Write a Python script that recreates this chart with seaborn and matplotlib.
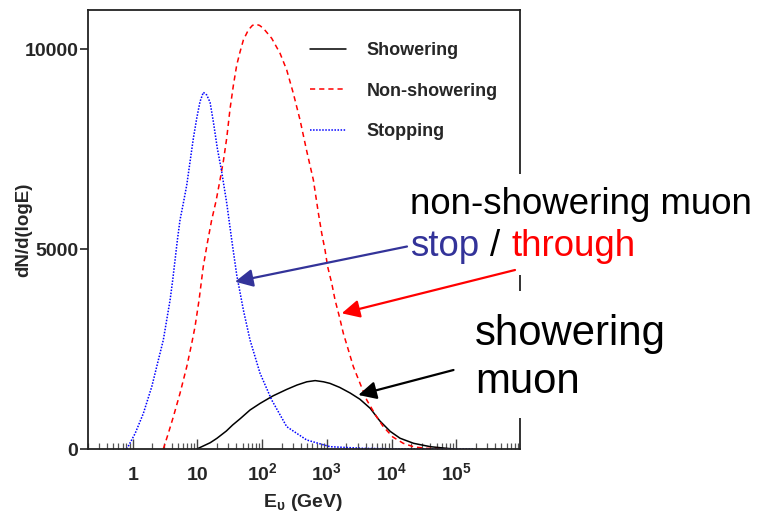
import matplotlib
matplotlib.use("Agg")
import matplotlib.pyplot as plt
from matplotlib.patches import Rectangle
from matplotlib.ticker import FixedLocator, FixedFormatter, LogLocator, NullFormatter
import numpy as np
import pandas as pd
import seaborn as sns

# ---- data: neutrino energy spectra of upward muon classes ----
series_names = ["Showering", "Non-showering", "Stopping"]

showering_E = [9.8, 12.3, 15.8, 20, 28, 35, 46, 65, 93, 148, 240, 347, 490, 660,
               890, 1120, 1580, 2290, 3240, 4680, 6610, 9550, 13500, 21900,
               39800, 63100, 91200]
showering_N = [0, 75, 158, 267, 450, 600, 760, 975, 1140, 1330, 1490, 1600, 1680,
               1710, 1680, 1640, 1540, 1400, 1245, 1017, 700, 440, 270, 142, 58,
               25, 0]

nonshowering_E = [2.97, 3.55, 4.25, 5.38, 6.84, 8.17, 9.18, 10.6, 12.3, 14.2, 16.6,
                  19.4, 22.3, 25.2, 28.4, 31.9, 36.0, 40.5, 45.6, 51.3, 61.2, 70.8,
                  79.4, 91.2, 104.5, 140.6, 189.2, 239.9, 303.4, 385.5, 488.7,
                  619.4, 739.6, 833.7, 937.6, 1030, 1191, 1340, 1563, 1799, 2153,
                  2570, 3258, 4140, 5902, 7464, 10470, 15210, 22390, 34990, 72440]
nonshowering_N = [0, 392, 808, 1392, 2058, 2642, 3058, 3725, 4558, 5142, 5725, 6200,
                  6720, 7200, 7780, 8500, 9100, 9600, 9930, 10225, 10475, 10590,
                  10620, 10590, 10517, 10267, 9892, 9475, 8892, 8225, 7450, 6725,
                  5900, 5392, 4975, 4558, 4142, 3725, 3308, 2892, 2475, 2058, 1642,
                  1225, 800, 558, 300, 142, 50, 17, 0]

stopping_E = [0.81, 1.09, 1.46, 1.97, 2.49, 2.97, 3.35, 3.78, 4.15, 4.51, 4.90, 5.38,
              6.05, 6.84, 7.69, 8.65, 9.75, 10.96, 12.33, 13.93, 15.67, 17.62, 20.3,
              23.7, 28.4, 33.9, 40.5, 51.3, 65.0, 92.9, 140.6, 240, 489, 1122, 3630,
              10000, 39800, 182000]
stopping_N = [0, 390, 890, 1560, 2225, 2725, 3225, 3725, 4225, 4725, 5225, 5725,
              6142, 6600, 7183, 7767, 8267, 8683, 8917, 8850, 8667, 8183, 7517,
              6933, 6142, 5225, 4350, 3475, 2725, 1892, 1225, 558, 225, 58, 17, 5,
              2, 0]

xtick_values = [1, 10, 100, 1000, 10000, 100000]
xtick_labels = ["1", "10", r"$\mathbf{10^{2}}$", r"$\mathbf{10^{3}}$",
                r"$\mathbf{10^{4}}$", r"$\mathbf{10^{5}}$"]
ytick_values = [0, 5000, 10000]

# ---- style ----
sns.set_theme(style="white")
plt.rcParams["font.family"] = ["Liberation Sans", "DejaVu Sans"]
plt.rcParams["mathtext.fontset"] = "custom"
plt.rcParams["mathtext.rm"] = "Liberation Sans"
plt.rcParams["mathtext.bf"] = "Liberation Sans:bold"
plt.rcParams["mathtext.it"] = "Liberation Sans:italic"

W, H = 761, 515
fig = plt.figure(figsize=(W / 100, H / 100), dpi=100)
fig.patch.set_facecolor("white")
ax = fig.add_axes([87.5 / W, 1 - 449 / H, 432 / W, 439 / H])
ax.set_xscale("log")

frames = []
for name, E, N in [("Showering", showering_E, showering_N),
                   ("Non-showering", nonshowering_E, nonshowering_N),
                   ("Stopping", stopping_E, stopping_N)]:
    frames.append(pd.DataFrame({"E": E, "dN": N, "type": name}))
df = pd.concat(frames, ignore_index=True)

palette = {"Showering": "black", "Non-showering": "#ff0000", "Stopping": "#0000ff"}
dashes = {"Showering": "", "Non-showering": (3.4, 2.6), "Stopping": (1.0, 1.0)}
sns.lineplot(data=df, x="E", y="dN", hue="type", style="type",
             hue_order=series_names, style_order=series_names,
             palette=palette, dashes=dashes, estimator=None, sort=False,
             legend=False, lw=1.1, ax=ax)

ax.set_xlim(0.2, 9.5e5)
ax.set_ylim(0, 10975)

# axes frame
for s in ax.spines.values():
    s.set_visible(True)
    s.set_color("#222222")
    s.set_linewidth(1.3)

# ticks
ax.xaxis.set_major_locator(FixedLocator(xtick_values))
ax.xaxis.set_major_formatter(FixedFormatter(xtick_labels))
ax.xaxis.set_minor_locator(LogLocator(base=10, subs=np.arange(2, 10), numticks=30))
ax.xaxis.set_minor_formatter(NullFormatter())
ax.set_yticks(ytick_values)
ax.set_yticklabels([str(v) for v in ytick_values])
ax.tick_params(axis="x", which="major", direction="in", length=7.5, width=1.0,
               color="#444444", pad=22.3, labelsize=14, bottom=True, top=False)
ax.tick_params(axis="x", which="minor", direction="in", length=4.3, width=0.9,
               color="#555555", bottom=True, top=False)
ax.tick_params(axis="y", which="major", direction="out", length=6, width=1.2,
               color="#222222", pad=0.5, labelsize=14, left=True, right=False)
for lbl in ax.get_xticklabels() + ax.get_yticklabels():
    lbl.set_fontweight("bold")
for t in ax.xaxis.get_major_ticks():
    t.label1.set_va("baseline")

ax.set_xlabel(r"$\mathbf{E_{υ}\ (GeV)}$", fontsize=14)
ax.xaxis.set_label_coords(0.5, -0.098)
ax.set_ylabel("dN/d(logE)", fontsize=13.5, fontweight="bold")
ax.yaxis.set_label_coords(-0.129, 0.5)

leg = ax.legend(handles=ax.lines[:3], labels=series_names, frameon=False,
                loc="upper left", bbox_to_anchor=(0.515, 0.927),
                borderaxespad=0, borderpad=0, handlelength=2.0,
                handletextpad=1.15, labelspacing=1.3, fontsize=13)
for txt in leg.get_texts():
    txt.set_fontweight("bold")

# ---- annotation layer in pixel coordinates ----
ov = fig.add_axes([0, 0, 1, 1], zorder=5)
ov.set_xlim(0, W)
ov.set_ylim(H, 0)
ov.axis("off")
ov.patch.set_alpha(0)

ov.add_patch(Rectangle((404, 174), W - 404, 101, facecolor="white", edgecolor="none"))
ov.add_patch(Rectangle((462, 291), W - 462, 127, facecolor="white", edgecolor="none"))

ov.text(410.5, 213.5, "non-showering muon", fontsize=26.4, color="black", va="baseline")
ov.text(410.5, 256, "stop", fontsize=26.4, color="#333399", va="baseline")
ov.text(489.5, 256, "/", fontsize=26.4, color="black", va="baseline")
ov.text(511, 256, "through", fontsize=26.4, color="#ff0000", va="baseline")
ov.text(475, 345, "showering", fontsize=30.2, color="black", va="baseline")
ov.text(475, 393, "muon", fontsize=30.2, color="black", va="baseline")

arrow_kw = dict(arrowstyle="-|>,head_length=1.0,head_width=0.5", mutation_scale=10.8,
                lw=1.6, shrinkA=0, shrinkB=0)
ov.annotate("", xy=(38.1, 4183), xycoords=ax.transData, xytext=(407, 246.5),
            textcoords="data", arrowprops=dict(color="#333399", **arrow_kw))
ov.annotate("", xy=(1700, 3392), xycoords=ax.transData, xytext=(515, 270),
            textcoords="data", arrowprops=dict(color="#ff0000", **arrow_kw))
ov.annotate("", xy=(3070, 1350), xycoords=ax.transData, xytext=(453.5, 370),
            textcoords="data", arrowprops=dict(color="black", **arrow_kw))

fig.savefig("out.png", dpi=100, facecolor="white")
